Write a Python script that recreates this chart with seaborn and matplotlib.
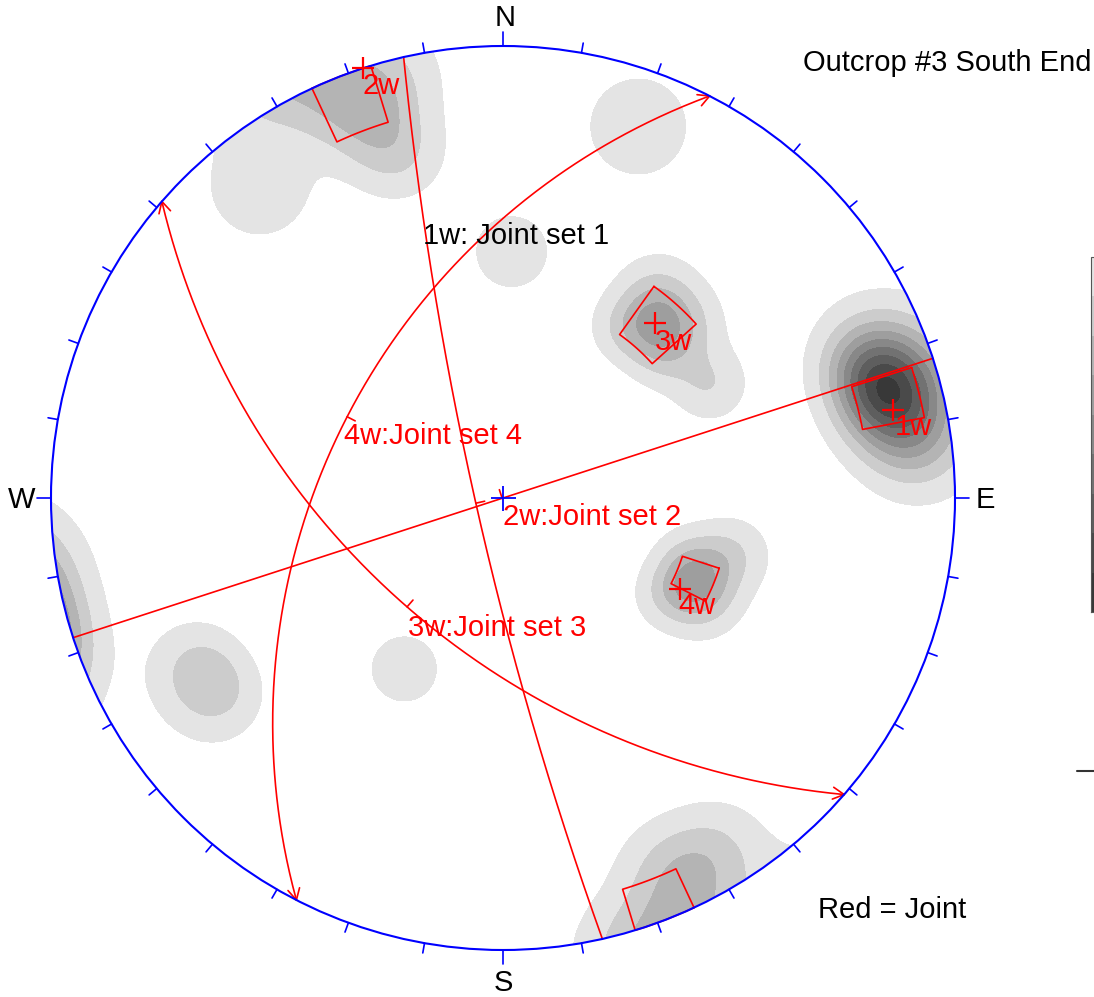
import numpy as np
import pandas as pd
import matplotlib
matplotlib.use("Agg")
import matplotlib.pyplot as plt
from matplotlib.patches import Circle
from matplotlib.lines import Line2D
import seaborn as sns

# ---------------- data ----------------
# joint poles (lower hemisphere), degrees
pole_trend = [75, 75, 73, 78, 72, 80, 71, 68, 83,          # set 1
              336, 344, 340, 156, 149, 322, 343,          # set 2
              41, 36, 46, 37, 48, 61,                     # set 3
              113, 109, 117, 120, 104,                    # set 4
              20, 2, 210, 235.5, 241]                     # scattered
pole_plunge = [7, 6, 8, 9, 4, 4, 10, 8, 5,
               1, 2, 7, 6, 5, 8, 13,
               36, 40, 32, 31, 39, 35,
               40, 43, 37, 44, 35,
               8, 33, 43, 15, 14.5]

# mean set poles
set_ids = ["1w", "2w", "3w", "4w"]
set_names = ["1w: Joint set 1", "2w:Joint set 2", "3w:Joint set 3", "4w:Joint set 4"]
set_trend = [77.3, 342.0, 41.0, 117.2]
set_plunge = [7.0, 0.0, 35.6, 42.5]
set_arrows = [False, False, True, True]

# set windows (pole trend / plunge ranges)
win_trend_min = [72.3, 335.0, 35.5, 108.0]
win_trend_max = [79.2, 343.0, 48.0, 117.0]
win_plunge_min = [3.0, -5.7, 30.2, 36.6]
win_plunge_max = [12.0, 8.0, 42.1, 44.7]

# contour settings (Gaussian counting kernel)
kernel_sigma = 4.9
contour_min = 0.38
contour_step = 0.68
n_levels = 9
grey_values = [228, 204, 180, 158, 136, 114, 94, 74, 56]

title_text = "Outcrop #3 South End"
legend_text = "Red = Joint"

# ---------------- layout ----------------
W_PX, H_PX = 1094, 997
CX, CY, RPX = 503, 498, 452


def to_data(xp, yp):
    return (xp - CX) / RPX, (CY - yp) / RPX


def project(trend, plunge):
    t = np.radians(trend)
    r = np.tan(np.radians(45.0 - np.asarray(plunge) / 2.0))
    return r * np.sin(t), r * np.cos(t)


sns.set_theme(style="white")
plt.rcParams["font.family"] = ["Liberation Sans", "DejaVu Sans"]

fig = plt.figure(figsize=(W_PX / 100, H_PX / 100), dpi=100)
fig.patch.set_facecolor("white")
ax = fig.add_axes([0, 0, 1, 1])
ax.set_xlim(-CX / RPX, (W_PX - CX) / RPX)
ax.set_ylim(-(H_PX - CY) / RPX, CY / RPX)
ax.axis("off")

# ---------------- density contours ----------------
g = np.linspace(-1.03, 1.03, 720)
GX, GY = np.meshgrid(g, g)
gr = np.hypot(GX, GY)
gp = np.radians(90.0 - 2.0 * np.degrees(np.arctan(gr)))
gt = np.arctan2(GX, GY)
ge, gn, gz = np.cos(gp) * np.sin(gt), np.cos(gp) * np.cos(gt), -np.sin(gp)

pt = np.radians(pole_trend)
pp = np.radians(pole_plunge)
pe, pn, pz = np.cos(pp) * np.sin(pt), np.cos(pp) * np.cos(pt), -np.sin(pp)

dens = np.zeros_like(GX)
sig = np.radians(kernel_sigma)
for a, b, c in zip(pe, pn, pz):
    dot = np.abs(ge * a + gn * b + gz * c).clip(0, 1)
    th = np.arccos(dot)
    dens += np.exp(-th ** 2 / (2 * sig ** 2))

levels = [contour_min + k * contour_step for k in range(n_levels)]
levels.append(max(dens.max(), levels[-1]) + 1.0)
greys = [(v / 255, v / 255, v / 255) for v in grey_values]

clip_circle = Circle((0, 0), 1.0, transform=ax.transData, facecolor="none", edgecolor="none")
ax.add_patch(clip_circle)
cs = ax.contourf(GX, GY, dens, levels=levels, colors=greys, antialiased=False)
cs.set_clip_path(clip_circle)

# ---------------- primitive circle and ticks ----------------
ax.add_patch(Circle((0, 0), 1.0, fill=False, ec="blue", lw=1.5, zorder=6))
for az in range(0, 360, 10):
    ln = 0.031 if az % 90 == 0 else 0.022
    s, c = np.sin(np.radians(az)), np.cos(np.radians(az))
    ax.plot([s, s * (1 + ln)], [c, c * (1 + ln)], color="blue", lw=1.2, zorder=6)
ax.plot([0], [0], marker="+", ms=18, mew=1.3, color="blue", zorder=7)

# ---------------- set windows ----------------
def window_outline(t0, t1, p0, p1):
    ts = np.linspace(t0, t1, 30)
    x0, y0 = project(ts, np.full_like(ts, p0))
    x1, y1 = project(ts[::-1], np.full_like(ts, p1))
    xs = np.concatenate([x0, x1, x0[:1]])
    ys = np.concatenate([y0, y1, y0[:1]])
    return xs, ys


for t0, t1, p0, p1 in zip(win_trend_min, win_trend_max, win_plunge_min, win_plunge_max):
    parts = [(t0, t1, max(p0, 0.0), p1)]
    if p0 < 0:
        parts.append((t0 + 180, t1 + 180, 0.0, -p0))
    for part in parts:
        xs, ys = window_outline(*part)
        ax.plot(xs, ys, color="red", lw=1.2, zorder=5)

# ---------------- great circles ----------------
for i, (tr, pl) in enumerate(zip(set_trend, set_plunge)):
    dd = np.radians(tr + 180.0)
    dip = np.radians(90.0 - pl)
    st = dd - np.pi / 2
    svec = np.array([np.sin(st), np.cos(st), 0.0])
    dvec = np.array([np.sin(dd) * np.cos(dip), np.cos(dd) * np.cos(dip), -np.sin(dip)])
    a = np.linspace(0, np.pi, 400)
    v = np.outer(np.cos(a), svec) + np.outer(np.sin(a), dvec)
    gx_ = v[:, 0] / (1 - v[:, 2])
    gy_ = v[:, 1] / (1 - v[:, 2])
    df = pd.DataFrame({"x": gx_, "y": gy_})
    sns.lineplot(data=df, x="x", y="y", sort=False, estimator=None, color="red",
                 lw=1.2, ax=ax, zorder=5, legend=False)
    # dip tick at the middle of the trace, pointing to the pole side
    mx, my = gx_[200], gy_[200]
    ux, uy = np.sin(np.radians(tr)), np.cos(np.radians(tr))
    ax.plot([mx, mx + 0.02 * ux], [my, my + 0.02 * uy], color="red", lw=1.2, zorder=5)
    if set_arrows[i]:
        for tip_i, prev_i in ((0, 12), (-1, -13)):
            tip = np.array([gx_[tip_i], gy_[tip_i]])
            prv = np.array([gx_[prev_i], gy_[prev_i]])
            u = (tip - prv) / np.linalg.norm(tip - prv)
            for ang in (28, -28):
                ca, sa = np.cos(np.radians(ang)), np.sin(np.radians(ang))
                rot = np.array([u[0] * ca - u[1] * sa, u[0] * sa + u[1] * ca])
                b = tip - 0.028 * rot
                ax.plot([tip[0], b[0]], [tip[1], b[1]], color="red", lw=1.2, zorder=5)

# ---------------- mean poles ----------------
sx, sy = project(np.array(set_trend), np.array(set_plunge))
sns.scatterplot(x=sx, y=sy, marker="+", s=230, linewidth=1.6, color="red",
                ax=ax, zorder=8, legend=False)

# ---------------- text ----------------
fs = 21
pole_label_pos = [(895, 427), (362, 86), (655, 342), (678, 606)]
for sid, (xp, yp) in zip(set_ids, pole_label_pos):
    ax.text(*to_data(xp, yp), sid, color="red", fontsize=fs, ha="left", va="center", zorder=9)

plane_label_pos = [(423, 236), (503, 517), (408, 628), (344, 436)]
plane_label_col = ["black", "red", "red", "red"]
for name, (xp, yp), col in zip(set_names, plane_label_pos, plane_label_col):
    ax.text(*to_data(xp, yp), name, color=col, fontsize=fs, ha="left", va="center", zorder=9)

for lab, (xp, yp) in zip("NSWE", [(505, 18), (503, 983), (22, 500), (985, 500)]):
    ax.text(*to_data(xp, yp), lab, color="black", fontsize=fs, ha="center", va="center")

ax.text(*to_data(803, 63), title_text, color="black", fontsize=fs, ha="left", va="center")
ax.text(*to_data(818, 910), legend_text, color="black", fontsize=fs, ha="left", va="center")

# ---------------- density legend bar (right edge) ----------------
cax = fig.add_axes([1091 / W_PX, 1 - 612 / H_PX, 40 / W_PX, (612 - 257) / H_PX])
cb = fig.colorbar(cs, cax=cax)
cax.invert_yaxis()
cb.set_ticks([])
cb.outline.set_linewidth(0.8)
cb.outline.set_edgecolor("#555555")
fig.add_artist(Line2D([1077 / W_PX, 1.0], [1 - 771 / H_PX] * 2, color="#333333", lw=1.5,
                      transform=fig.transFigure))

fig.savefig("out.png", dpi=100, facecolor="white")
